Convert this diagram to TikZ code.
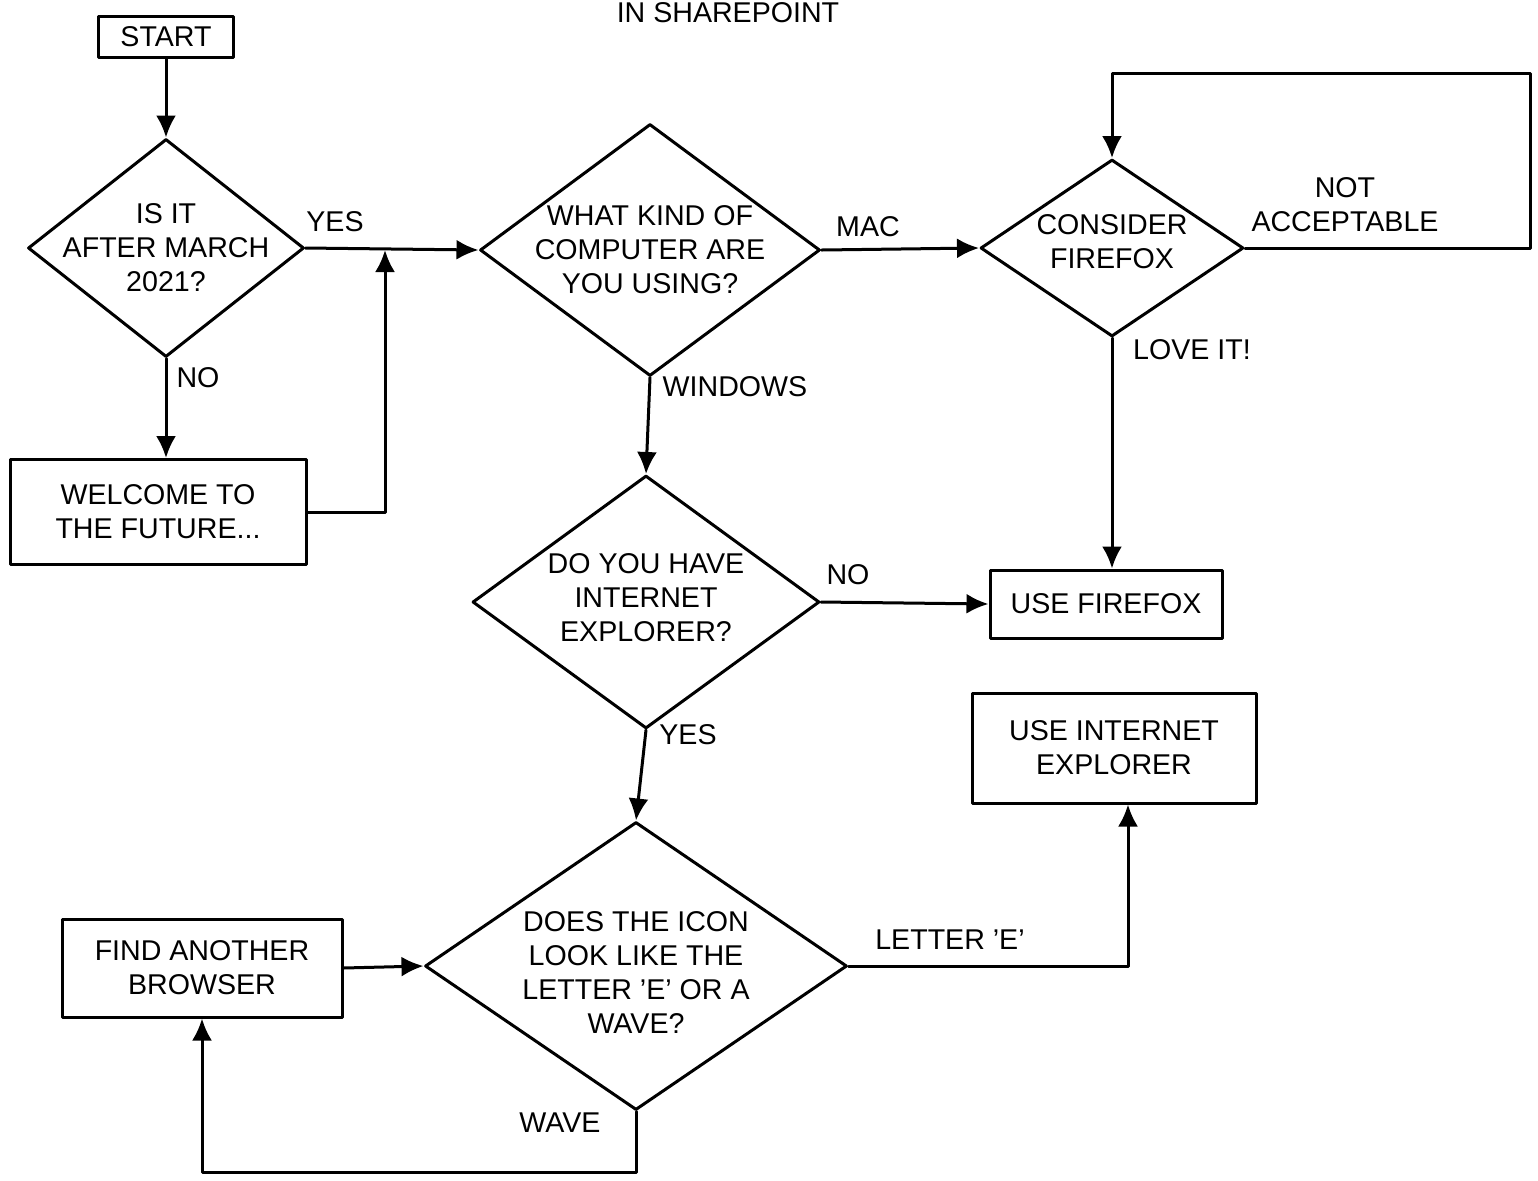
\documentclass[tikz,border=0pt]{standalone}
\usepackage{fontspec}
\setmainfont{Liberation Sans}
\usetikzlibrary{arrows.meta,shapes}

\tikzset{
  box/.style 2 args={draw,rectangle,align=center,inner sep=0pt,minimum width=#1,minimum height=#2},
  decision/.style 2 args={draw,diamond,inner sep=0pt,minimum width=#1,minimum height=#2},
  lbl/.style={align=center,inner sep=0pt},
  every label/.style={align=center,inner sep=0pt}
}

\begin{document}
\begin{tikzpicture}[x=0.5pt,y=-0.5pt,line width=1.5pt,line cap=round,line join=round,
  >={Latex[length=11pt,width=10pt]},font=\fontsize{14.3}{17}\selectfont]
\useasboundingbox (0,0) rectangle (1538,1180);
\node[lbl](title) at (728,13){IN SHAREPOINT};
%boxes
\node[box={67.5pt}{20.5pt}](start) at (166,37){START};
\node[box={148pt}{52.5pt}](welcome) at (158,512){WELCOME TO\\THE FUTURE...};
\node[box={116pt}{34pt}](usefx) at (1106,604){USE FIREFOX};
\node[box={142pt}{55pt}](useie) at (1114,748){USE INTERNET\\EXPLORER};
\node[box={140pt}{49pt}](find) at (202,968){FIND ANOTHER\\BROWSER};
%diamonds
\node[decision={138pt}{109pt},label=center:{IS IT\\AFTER MARCH\\2021?}](q1) at (166,248){};
\node[decision={170pt}{126pt},label=center:{WHAT KIND OF\\COMPUTER ARE\\YOU USING?}](q2) at (650,250){};
\node[decision={131.5pt}{88.5pt},label={[yshift=3pt]center:{CONSIDER\\FIREFOX}}](q3) at (1112,248){};
\node[decision={173.5pt}{126.5pt},label={[yshift=2pt]center:{DO YOU HAVE\\INTERNET\\EXPLORER?}}](q4) at (646,602){};
\node[decision={211pt}{144pt},label={[yshift=-3pt]center:{DOES THE ICON\\LOOK LIKE THE\\LETTER 'E' OR A\\WAVE?}}](q5) at (636,966){};
%corners
\coordinate (join) at (385,250);
\coordinate (loopR) at (1530,73);
\coordinate (wavebot) at (202,1172);

\draw[->] (start) -- (q1.north);
\draw[->] (q1.east) -- (q2.west);
\draw[->] (q1.south) -- (q1.south |- welcome.north);
\draw[->] (welcome.east) -| (join);
\draw[->] (q2.east) -- (q3.west);
\draw[->] (q3.east) -| (loopR) -| (q3.north);
\draw[->] (q3.south) -- (q3.south |- usefx.north);
\draw[->] (q2.south) -- (q4.north);
\draw[->] (q4.east) -- (usefx.west);
\draw[->] (q4.south) -- (q5.north);
\draw[->] (q5.east) -| ([xshift=7pt]useie.south);
\draw[->] (find.east) -- (q5.west);
\draw[->] (q5.south) |- (wavebot) -- (find.south);
%labels
\node[lbl](yes1) at (335,222){YES};
\node[lbl](no1) at (198,378){NO};
\node[lbl](mac) at (868,227){MAC};
\node[lbl](notacc) at (1345,205){NOT\\ACCEPTABLE};
\node[lbl](love) at (1192,350){LOVE IT!};
\node[lbl](win) at (735,387){WINDOWS};
\node[lbl](no2) at (848,575){NO};
\node[lbl](yes2) at (688,735){YES};
\node[lbl](lettere) at (950,940){LETTER 'E'};
\node[lbl](wave) at (560,1123){WAVE};
\end{tikzpicture}
\end{document}
